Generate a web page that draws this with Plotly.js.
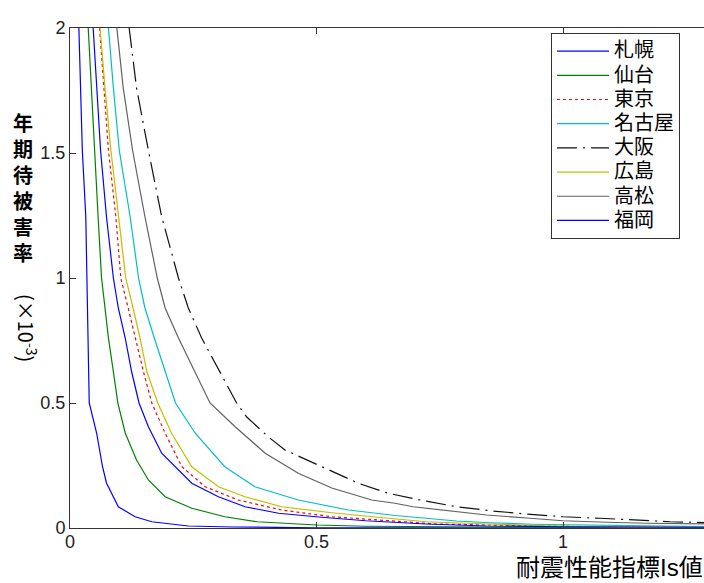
<!DOCTYPE html>
<html>
<head>
<meta charset="utf-8">
<script src="https://cdn.plot.ly/plotly-3.0.1.min.js"></script>
<style>html,body{margin:0;padding:0;background:#fff;}</style>
</head>
<body>
<div id="chart" style="width:704px;height:583px;"></div>
<script>
// City names (legend order)
const cities = ['札幌', '仙台', '東京', '名古屋', '大阪', '広島', '高松', '福岡'];

// Is value (x) and annual expected damage rate ×10^-3 (y)
const isSapporo   = [0.018,0.022,0.025,0.032,0.034,0.0345,0.036,0.037,0.039,0.054,0.066,0.074,0.098,0.132,0.166,0.24,0.33,0.5,1.3];
const rateSapporo = [2.0,1.76,1.51,1.245,1.0,0.88,0.76,0.625,0.5,0.38,0.245,0.18,0.085,0.045,0.025,0.008,0.004,0.001,0.0];

const isSendai    = [0.037,0.043,0.049,0.057,0.064,0.071,0.078,0.088,0.097,0.112,0.135,0.159,0.193,0.247,0.314,0.38,0.5,0.6,0.85,1.3];
const rateSendai  = [2.0,1.76,1.51,1.245,1.0,0.88,0.76,0.625,0.5,0.38,0.272,0.192,0.125,0.079,0.045,0.025,0.012,0.007,0.004,0.002];

const isTokyo     = [0.060,0.069,0.078,0.093,0.103,0.118,0.132,0.149,0.166,0.193,0.227,0.274,0.341,0.429,0.531,0.625,0.675,0.743,0.851,1.10,1.3];
const rateTokyo   = [2.0,1.76,1.51,1.245,1.0,0.88,0.76,0.625,0.5,0.379,0.245,0.165,0.112,0.072,0.045,0.032,0.023,0.016,0.012,0.003,0.002];

const isNagoya    = [0.078,0.088,0.100,0.122,0.139,0.152,0.171,0.193,0.214,0.254,0.314,0.375,0.463,0.565,0.66,0.784,0.851,0.939,1.095,1.3];
const rateNagoya  = [2.0,1.76,1.51,1.245,1.0,0.88,0.76,0.625,0.5,0.379,0.245,0.165,0.112,0.072,0.05,0.028,0.021,0.015,0.010,0.005];

const isOsaka     = [0.120,0.135,0.159,0.186,0.220,0.240,0.267,0.304,0.338,0.358,0.402,0.436,0.524,0.585,0.645,0.710,0.784,0.858,0.926,1.0,1.075,1.149,1.217,1.3];
const rateOsaka   = [2.0,1.76,1.51,1.245,1.0,0.88,0.76,0.625,0.5,0.445,0.365,0.312,0.232,0.179,0.139,0.112,0.085,0.068,0.056,0.045,0.039,0.032,0.025,0.021];

const isHiroshima   = [0.061,0.071,0.083,0.098,0.113,0.128,0.142,0.156,0.178,0.206,0.247,0.301,0.355,0.429,0.531,0.63,0.722,0.845,0.966,1.115,1.3];
const rateHiroshima = [2.0,1.76,1.51,1.245,1.0,0.88,0.76,0.625,0.5,0.379,0.245,0.165,0.125,0.085,0.061,0.042,0.025,0.016,0.009,0.004,0.003];

const isTakamatsu   = [0.095,0.108,0.127,0.152,0.177,0.193,0.220,0.254,0.284,0.335,0.396,0.463,0.531,0.612,0.659,0.696,0.777,0.845,0.933,1.0,1.089,1.17,1.3];
const rateTakamatsu = [2.0,1.76,1.51,1.245,1.0,0.88,0.76,0.625,0.5,0.405,0.299,0.219,0.16,0.112,0.099,0.085,0.067,0.052,0.039,0.029,0.023,0.019,0.016];

const isFukuoka   = [0.047,0.055,0.062,0.074,0.088,0.098,0.112,0.125,0.140,0.159,0.186,0.247,0.301,0.355,0.423,0.51,0.60,0.722,0.845,1.0,1.3];
const rateFukuoka = [2.0,1.76,1.51,1.245,1.0,0.88,0.76,0.625,0.5,0.405,0.299,0.179,0.125,0.085,0.059,0.043,0.029,0.016,0.008,0.005,0.003];

const xTicks = [0, 0.5, 1];
const xTickText = ['0', '0.5', '1'];
const yTicks = [0, 0.5, 1, 1.5, 2];
const yTickText = ['0', '0.5', '1', '1.5', '2'];

const xs = [isSapporo, isSendai, isTokyo, isNagoya, isOsaka, isHiroshima, isTakamatsu, isFukuoka];
const ys = [rateSapporo, rateSendai, rateTokyo, rateNagoya, rateOsaka, rateHiroshima, rateTakamatsu, rateFukuoka];
const colors = ['#0000ff', '#008000', '#ff0000', '#00bfbf', '#111111', '#bfbf00', '#606060', '#0000ff'];
const dashes = ['solid', 'solid', '3px,3px', 'solid', '20px,6px,2px,6px', 'solid', 'solid', 'solid'];

const traces = cities.map((c, i) => ({
  type: 'scatter',
  mode: 'lines',
  x: xs[i],
  y: ys[i],
  name: '<span style="font-size:20px">' + c + '</span>',
  line: {color: colors[i], width: 1.2, dash: dashes[i]},
  hoverinfo: 'skip'
}));

const mixFamily = 'Liberation Sans, Noto Sans CJK JP, sans-serif';
const axisFont = {family: 'Liberation Sans, Arial, sans-serif', size: 18, color: '#222'};

const layout = {
  width: 704,
  height: 583,
  margin: {l: 70, r: 0, t: 28, b: 55, pad: 0},
  paper_bgcolor: '#ffffff',
  plot_bgcolor: '#ffffff',
  showlegend: true,
  legend: {
    x: 0.7587, y: 0.99, xanchor: 'left', yanchor: 'top',
    bgcolor: '#ffffff', bordercolor: '#333333', borderwidth: 1,
    font: {family: mixFamily, size: 16.3, color: '#000'},
    itemwidth: 52, tracegroupgap: 0
  },
  xaxis: {
    range: [0, 1.286], tickvals: xTicks, ticktext: xTickText,
    ticks: 'inside', ticklen: 6, tickcolor: '#333', tickwidth: 1,
    showline: true, linecolor: '#333', linewidth: 1, mirror: 'ticks',
    showgrid: false, zeroline: false, tickfont: axisFont, ticklabelstandoff: -3
  },
  yaxis: {
    range: [0, 2], tickvals: yTicks, ticktext: yTickText,
    ticks: 'inside', ticklen: 6, tickcolor: '#333', tickwidth: 1,
    showline: true, linecolor: '#333', linewidth: 1, mirror: false,
    showgrid: false, zeroline: false, tickfont: axisFont
  },
  annotations: [
    {
      text: '年<br>期<br>待<br>被<br>害<br>率',
      xref: 'paper', yref: 'paper', x: -0.0749, y: 0.678,
      xanchor: 'center', yanchor: 'middle', showarrow: false, borderpad: 0,
      font: {family: mixFamily, size: 20, color: '#000', weight: 'bold'}
    },
    {
      text: '(×10<sup>-3</sup>)',
      xref: 'paper', yref: 'paper', x: -0.0678, y: 0.40,
      xanchor: 'center', yanchor: 'middle', showarrow: false, textangle: 90, borderpad: 0,
      font: {family: 'Noto Sans CJK JP, sans-serif', size: 20, color: '#000'}
    },
    {
      text: '耐震性能指標Is値',
      xref: 'paper', yref: 'paper', x: 1, y: -0.107,
      xanchor: 'right', yanchor: 'bottom', showarrow: false, borderpad: 0,
      font: {family: mixFamily, size: 24, color: '#000'}
    }
  ]
};

Plotly.newPlot('chart', traces, layout, {staticPlot: true, displayModeBar: false});
</script>
</body>
</html>
